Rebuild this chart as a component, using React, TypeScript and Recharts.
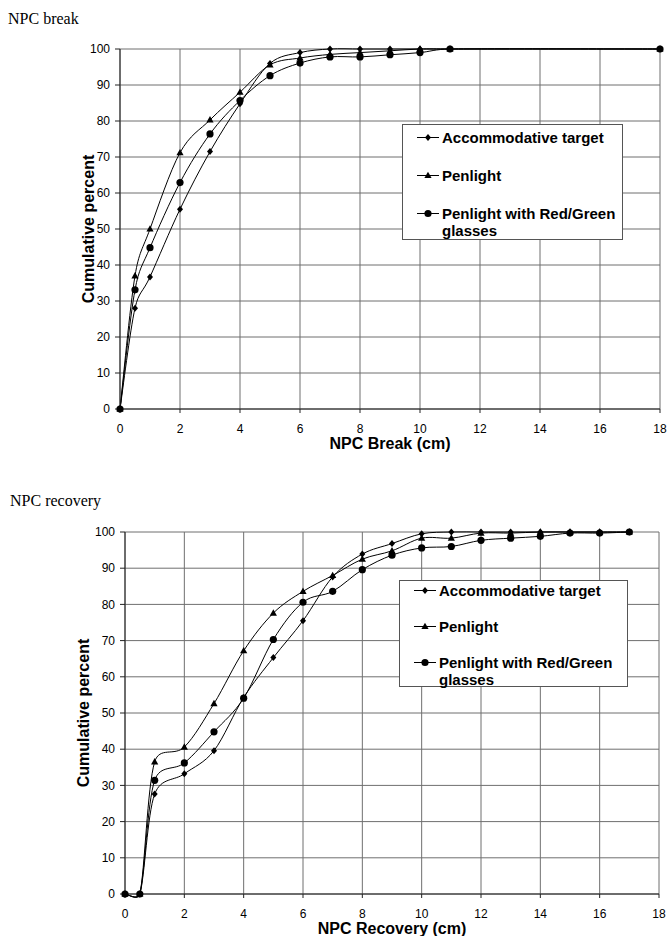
import { LineChart, Line, XAxis, YAxis, CartesianGrid, Legend } from 'recharts';

// NPC break (cm)
const breakX = [0, 0.5, 1, 2, 3, 4, 5, 6, 7, 8, 9, 10, 11, 18];
const breakAccommodative = [0, 28, 36.7, 55.5, 71.5, 84.8, 96, 99, 100, 100, 100, 100, 100, 100];
const breakPenlight = [0, 37, 50, 71.2, 80.3, 88, 95.6, 97.5, 98.5, 99, 99.5, 100, 100, 100];
const breakRedGreen = [0, 33.1, 44.8, 62.9, 76.4, 85.7, 92.6, 96.1, 97.8, 97.8, 98.4, 99, 100, 100];

// NPC recovery (cm)
const recoveryX = [0, 0.5, 1, 2, 3, 4, 5, 6, 7, 8, 9, 10, 11, 12, 13, 14, 15, 16, 17];
const recoveryAccommodative = [0, 0, 27.6, 33.2, 39.6, 54.3, 65.3, 75.5, 87.6, 93.9, 96.8, 99.5, 100, 100, 100, 100, 100, 100, 100];
const recoveryPenlight = [0, 0, 36.5, 40.6, 52.6, 67.2, 77.6, 83.6, 88, 92.5, 94.8, 98.3, 98.3, 99.7, 99.7, 100, 100, 100, 100];
const recoveryRedGreen = [0, 0, 31.4, 36.2, 44.8, 54.1, 70.3, 80.6, 83.6, 89.6, 93.6, 95.6, 96, 97.7, 98.3, 98.8, 99.7, 99.7, 100];

const xTicks = [0, 2, 4, 6, 8, 10, 12, 14, 16, 18];
const yTicks = [0, 10, 20, 30, 40, 50, 60, 70, 80, 90, 100];

const seriesNames = ['Accommodative target', 'Penlight', 'Penlight with Red/Green glasses'];
const seriesKeys = ['acc', 'pen', 'rg'];
const seriesShapes = ['diamond', 'triangle', 'circle'];

const SANS = '"Liberation Sans", Arial, sans-serif';
const SERIF = '"Liberation Serif", "Times New Roman", serif';

const breakData = breakX.map((x, i) => ({
  x,
  acc: breakAccommodative[i],
  pen: breakPenlight[i],
  rg: breakRedGreen[i],
}));

const recoveryData = recoveryX.map((x, i) => ({
  x,
  acc: recoveryAccommodative[i],
  pen: recoveryPenlight[i],
  rg: recoveryRedGreen[i],
}));

// Excel-style smoothed line: bezier with 1/6 arms, arms capped at half the segment
const dist = (a: number[], b: number[]) => Math.hypot(b[0] - a[0], b[1] - a[1]);

const excelSmooth = (ctx: any) => {
  let pts: number[][] = [];
  return {
    areaStart() {},
    areaEnd() {},
    lineStart() {
      pts = [];
    },
    point(x: number, y: number) {
      pts.push([+x, +y]);
    },
    lineEnd() {
      const n = pts.length;
      if (!n) return;
      ctx.moveTo(pts[0][0], pts[0][1]);
      for (let i = 0; i < n - 1; i++) {
        const p0 = pts[Math.max(i - 1, 0)];
        const p1 = pts[i];
        const p2 = pts[i + 1];
        const p3 = pts[Math.min(i + 2, n - 1)];
        const d12 = dist(p1, p2);
        const d02 = dist(p0, p2);
        const d13 = dist(p1, p3);
        let f1 = 1 / 6;
        let f2 = 1 / 6;
        if (d02 > 0 && d02 / 6 > d12 / 2) f1 = d12 / (2 * d02);
        if (d13 > 0 && d13 / 6 > d12 / 2) f2 = d12 / (2 * d13);
        ctx.bezierCurveTo(
          p1[0] + (p2[0] - p0[0]) * f1,
          p1[1] + (p2[1] - p0[1]) * f1,
          p2[0] - (p3[0] - p1[0]) * f2,
          p2[1] - (p3[1] - p1[1]) * f2,
          p2[0],
          p2[1]
        );
      }
    },
  };
};

function Marker({ shape, cx, cy }: { shape: string; cx: number; cy: number }) {
  if (shape === 'diamond') {
    return <path d={`M${cx},${cy - 3.5}L${cx + 3},${cy}L${cx},${cy + 3.5}L${cx - 3},${cy}Z`} fill="#000" />;
  }
  if (shape === 'triangle') {
    return <path d={`M${cx},${cy - 3.8}L${cx + 3.6},${cy + 2.6}L${cx - 3.6},${cy + 2.6}Z`} fill="#000" />;
  }
  return <circle cx={cx} cy={cy} r={3.6} fill="#000" />;
}

function LegendBox({ pad, gap }: { pad: number; gap: number }) {
  return (
    <div
      style={{
        boxSizing: 'border-box',
        width: '100%',
        height: '100%',
        border: '1px solid #555',
        background: '#fff',
        padding: `${pad}px 0 0 14px`,
        fontFamily: SANS,
        fontWeight: 'bold',
        fontSize: 15,
        lineHeight: '17px',
        color: '#000',
      }}
    >
      {seriesNames.map((name, i) => (
        <div key={name} style={{ display: 'flex', alignItems: 'flex-start', marginBottom: gap }}>
          <svg width={23} height={17} style={{ flex: 'none', marginRight: 2 }}>
            <line x1={0} y1={8.5} x2={22} y2={8.5} stroke="#000" strokeWidth={1} />
            <Marker shape={seriesShapes[i]} cx={11} cy={8.5} />
          </svg>
          <span>
            {i === 2 ? (
              <>
                Penlight with Red/Green
                <br />
                glasses
              </>
            ) : (
              name
            )}
          </span>
        </div>
      ))}
    </div>
  );
}

type PanelProps = {
  data: any[];
  width: number;
  height: number;
  margin: { top: number; right: number; bottom: number; left: number };
  yAxisWidth: number;
  xAxisHeight: number;
  xLabel: string;
  xLabelOffset: number;
  legendBox: { left: number; top: number; width: number; height: number };
  legendPad: number;
  legendGap: number;
};

function Panel(p: PanelProps) {
  return (
    <LineChart width={p.width} height={p.height} data={p.data} margin={p.margin}>
      <CartesianGrid stroke="#6f6f6f" strokeWidth={1} />
      <XAxis
        dataKey="x"
        type="number"
        domain={[0, 18]}
        ticks={xTicks}
        interval={0}
        height={p.xAxisHeight}
        stroke="#222"
        tickSize={4}
        tickMargin={11}
        tick={{ fill: '#000', fontSize: 12, fontFamily: SANS }}
        label={{
          value: p.xLabel,
          position: 'insideBottom',
          offset: p.xLabelOffset,
          fill: '#000',
          fontSize: 16,
          fontWeight: 'bold',
          fontFamily: SANS,
        }}
      />
      <YAxis
        type="number"
        domain={[0, 100]}
        ticks={yTicks}
        interval={0}
        width={p.yAxisWidth}
        stroke="#222"
        tickSize={5}
        tickMargin={5}
        tick={{ fill: '#000', fontSize: 12, fontFamily: SANS }}
        label={{
          value: 'Cumulative percent',
          angle: -90,
          position: 'center',
          fill: '#000',
          fontSize: 16,
          fontWeight: 'bold',
          fontFamily: SANS,
        }}
      />
      {seriesKeys.map((key, i) => (
        <Line
          key={key}
          dataKey={key}
          name={seriesNames[i]}
          type={excelSmooth as any}
          stroke="#000"
          strokeWidth={1}
          isAnimationActive={false}
          dot={(d: any) => <Marker key={`${key}-${d.index}`} shape={seriesShapes[i]} cx={d.cx} cy={d.cy} />}
          activeDot={false}
        />
      ))}
      <Legend
        layout="vertical"
        align="center"
        verticalAlign="middle"
        wrapperStyle={{ ...p.legendBox }}
        content={() => <LegendBox pad={p.legendPad} gap={p.legendGap} />}
      />
    </LineChart>
  );
}

export default function App() {
  return (
    <div style={{ position: 'absolute', left: 0, top: 0, width: 669, height: 936, background: '#fff', overflow: 'hidden' }}>
      <div style={{ position: 'absolute', left: 8, top: 11, fontFamily: SERIF, fontSize: 16, lineHeight: '16px', color: '#000' }}>
        NPC break
      </div>
      <div style={{ position: 'absolute', left: 0, top: 0 }}>
        <Panel
          data={breakData}
          width={669}
          height={460}
          margin={{ top: 49, right: 9, bottom: 10, left: 56 }}
          yAxisWidth={64}
          xAxisHeight={41}
          xLabel="NPC Break (cm)"
          xLabelOffset={1}
          legendBox={{ left: 402, top: 124, width: 221, height: 116 }}
          legendPad={4}
          legendGap={21}
        />
      </div>

      <div style={{ position: 'absolute', left: 10, top: 493, fontFamily: SERIF, fontSize: 16, lineHeight: '16px', color: '#000' }}>
        NPC recovery
      </div>
      <div style={{ position: 'absolute', left: 0, top: 480 }}>
        <Panel
          data={recoveryData}
          width={669}
          height={456}
          margin={{ top: 52, right: 10, bottom: 0, left: 41 }}
          yAxisWidth={84}
          xAxisHeight={42}
          xLabel="NPC Recovery (cm)"
          xLabelOffset={2}
          legendBox={{ left: 399, top: 100, width: 229, height: 107 }}
          legendPad={1}
          legendGap={19}
        />
      </div>
    </div>
  );
}
